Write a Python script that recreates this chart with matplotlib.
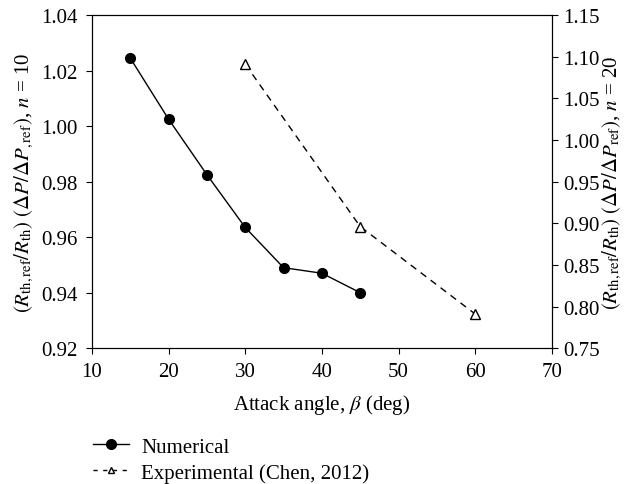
import matplotlib.pyplot as plt
from matplotlib.lines import Line2D

plt.rcParams['font.family'] = ['Liberation Serif', 'DejaVu Serif']
plt.rcParams['mathtext.fontset'] = 'stix'

# данные
angle_num = [15, 20, 25, 30, 35, 40, 45]
ratio_num = [1.0245, 1.0025, 0.9825, 0.9635, 0.9490, 0.9470, 0.9400]

angle_exp = [30, 45, 60]
ratio_exp = [1.091, 0.896, 0.791]

x_ticks = [10, 20, 30, 40, 50, 60, 70]
left_ticks = [0.92, 0.94, 0.96, 0.98, 1.00, 1.02, 1.04]
right_ticks = [0.75, 0.80, 0.85, 0.90, 0.95, 1.00, 1.05, 1.10, 1.15]

FS = 15

fig = plt.figure(figsize=(6.25, 4.85), dpi=100)
ax = fig.add_axes([0.147, 0.280, 0.736, 0.687])
ax2 = ax.twinx()

ax.plot(angle_num, ratio_num, color='black', lw=1.0, marker='o', ms=7,
        markerfacecolor='black')
ax2.plot(angle_exp, ratio_exp, color='black', lw=1.0, ls=(0, (5, 4)),
         marker='^', ms=7, markerfacecolor='white', markeredgewidth=1.0)

ax.set_xlim(10, 70)
ax.set_ylim(0.92, 1.04)
ax2.set_ylim(0.75, 1.15)
ax.set_xticks(x_ticks)
ax.set_yticks(left_ticks)
ax2.set_yticks(right_ticks)
ax.set_yticklabels([f"{v:.2f}" for v in left_ticks])
ax2.set_yticklabels([f"{v:.2f}" for v in right_ticks])

for a in (ax, ax2):
    a.tick_params(direction='out', length=4, width=0.8, labelsize=FS, pad=4)
    for s in a.spines.values():
        s.set_linewidth(0.8)
ax.tick_params(axis='x', pad=6)
ax.tick_params(axis='y', pad=6)

ax.set_xlabel(r"Attack angle, $\beta$ (deg)", fontsize=FS, labelpad=8)
ax.set_ylabel(r"$(R_{\mathrm{th,ref}}/R_{\mathrm{th}})\ (\Delta P/\Delta P_{,\mathrm{ref}})$, $n$ = 10",
              fontsize=FS, labelpad=4)
ax2.set_ylabel(r"$(R_{\mathrm{th,ref}}/R_{\mathrm{th}})\ (\Delta P/\Delta P_{\mathrm{ref}})$, $n$ = 20",
               fontsize=FS, rotation=90, labelpad=1)

handles = [
    Line2D([], [], color='black', lw=1.0, marker='o', ms=7),
    Line2D([], [], color='black', lw=1.0, ls=(0, (3, 4)), marker='^', ms=5,
           markerfacecolor='white'),
]
fig.legend(handles, ["Numerical", "Experimental (Chen, 2012)"],
           loc='upper left', bbox_to_anchor=(0.149, 0.097), frameon=False,
           fontsize=FS, handlelength=1.7, handletextpad=0.6, labelspacing=0.3,
           borderaxespad=0, borderpad=0)

fig.savefig("out.png", dpi=100)
